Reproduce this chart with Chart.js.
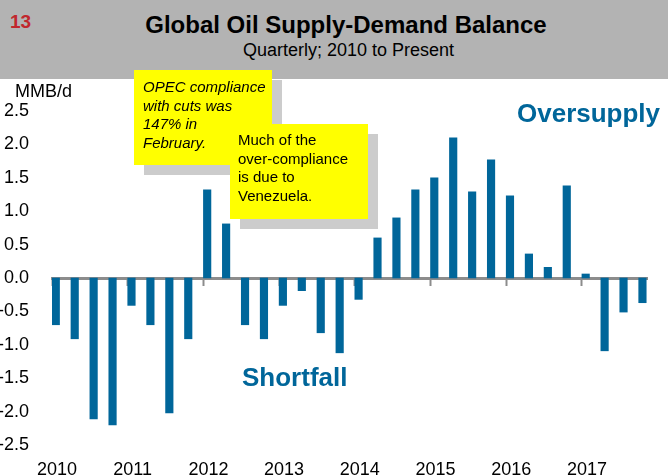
<!DOCTYPE html>
<html>
<head>
<meta charset="utf-8">
<script src="https://cdn.jsdelivr.net/npm/chart.js@4.4.1/dist/chart.umd.min.js"></script>
<style>
  body { margin: 0; width: 668px; height: 475px; position: relative; overflow: hidden; background: #fff;
         font-family: "Liberation Sans", Arial, sans-serif; }
  .header { position: absolute; left: 0; top: 0; width: 668px; height: 79px; background: #b3b3b3; }
  .abs { position: absolute; line-height: 1; white-space: nowrap; }
  #chart { position: absolute; left: 0; top: 0; }
  .note { position: absolute; width: 138px; height: 95px; box-sizing: border-box; background: #ffff00;
          box-shadow: 10px 10px 0 #cccccc; font-size: 15px; line-height: 18.7px; color: #000; white-space: nowrap; }
  .tag { position: absolute; font-weight: bold; font-size: 26px; line-height: 1; color: #00669a; }
</style>
</head>
<body>
<div class="header"></div>
<div class="abs" style="left:10px; top:12px; font-size:19px; font-weight:bold; color:#c1272d;">13</div>
<div class="abs" style="left:0; width:692px; text-align:center; top:12.5px; font-size:24px; font-weight:bold; color:#000;">Global Oil Supply-Demand Balance</div>
<div class="abs" style="left:0; width:697px; text-align:center; top:41px; font-size:18px; color:#000;">Quarterly; 2010 to Present</div>
<canvas id="chart" width="668" height="475"></canvas>
<div class="abs" style="left:15px; top:81.7px; font-size:18px; color:#000;">MMB/d</div>
<div class="tag" style="left:517px; top:100px;">Oversupply</div>
<div class="tag" style="left:242px; top:364px;">Shortfall</div>
<div class="note" style="left:134px; top:70px; padding:8px 0 0 9px; font-style:italic;">OPEC compliance<br>with cuts was<br>147% in<br>February.</div>
<div class="note" style="left:230px; top:124px; padding:7px 0 0 8px;">Much of the<br>over-compliance<br>is due to<br>Venezuela.</div>
<script>
// quarterly balance, MMB/d, 2010 Q1 .. 2017 Q4
const years = [2010, 2011, 2012, 2013, 2014, 2015, 2016, 2017];
const balance = [
  -0.70, -0.91, -2.11, -2.20,
  -0.41, -0.70, -2.02, -0.91,
   1.32,  0.81, -0.70, -0.91,
  -0.41, -0.19, -0.82, -1.12,
  -0.32,  0.60,  0.90,  1.32,
   1.50,  2.10,  1.29,  1.77,
   1.23,  0.36,  0.16,  1.38,
   0.06, -1.09, -0.51, -0.37
];
const yTicks = [2.5, 2.0, 1.5, 1.0, 0.5, 0.0, -0.5, -1.0, -1.5, -2.0, -2.5];

const barLead = 0.05; // bars sit at the start of each quarter
const xMin = years[0];
const xMax = years[0] + balance.length / 4 - 0.14;
const font = { family: '"Liberation Sans", Arial, sans-serif', size: 18 };

const ctx = document.getElementById('chart').getContext('2d');
new Chart(ctx, {
  type: 'bar',
  data: {
    datasets: [{
      data: balance.map((v, i) => ({ x: years[0] + i / 4 + barLead, y: v })),
      backgroundColor: '#00669a',
      barThickness: 7.5
    }]
  },
  options: {
    responsive: false,
    animation: false,
    devicePixelRatio: 1,
    layout: { padding: { left: 0, right: 21, top: 111, bottom: 0 } },
    plugins: { legend: { display: false }, tooltip: { enabled: false } },
    scales: {
      x: {
        type: 'linear',
        position: { y: 0 },
        offset: false,
        min: xMin,
        max: xMax,
        z: 1,
        afterBuildTicks: s => { s.ticks = years.map(v => ({ value: v })); },
        ticks: { display: false },
        grid: { offset: false, drawOnChartArea: false, drawTicks: true, tickLength: 6, tickWidth: 2, tickColor: '#8c8c8c' },
        border: { display: true, color: '#8c8c8c', width: 3 }
      },
      x2: {
        type: 'linear',
        position: 'bottom',
        offset: false,
        min: xMin,
        max: xMax,
        afterBuildTicks: s => { s.ticks = years.map(v => ({ value: v })); },
        afterFit: s => { s.height = 30; },
        ticks: { font: font, color: '#000', padding: 6, labelOffset: 5, maxRotation: 0,
                 callback: v => String(v) },
        grid: { display: false },
        border: { display: false }
      },
      y: {
        min: -2.5,
        max: 2.5,
        afterBuildTicks: s => { s.ticks = yTicks.map(v => ({ value: v })); },
        afterFit: s => { s.width = 52; },
        ticks: { font: font, color: '#000', padding: 15, callback: v => v.toFixed(1) },
        grid: { display: false },
        border: { display: false }
      }
    }
  }
});
</script>
</body>
</html>
